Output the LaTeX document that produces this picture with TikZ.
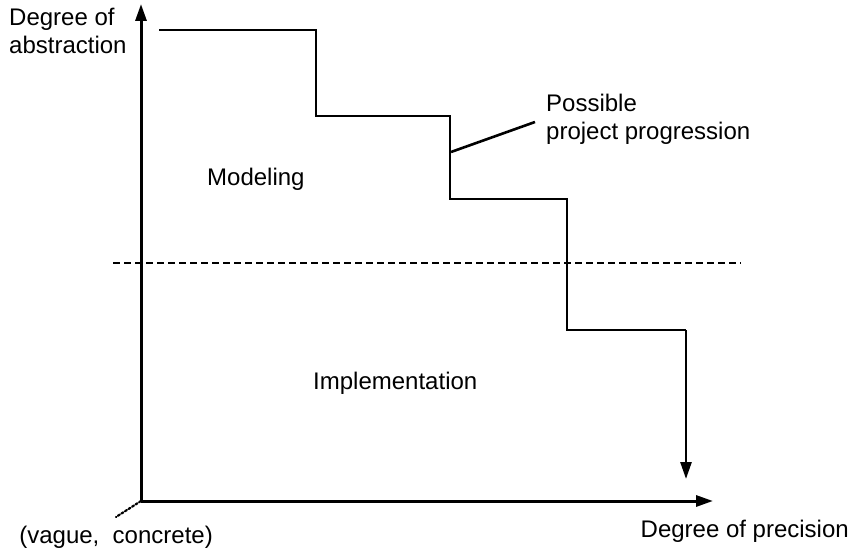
\documentclass[tikz,border=0pt]{standalone}
\usepackage{fontspec}
\setmainfont{Liberation Sans}
\usetikzlibrary{arrows.meta}
\begin{document}
\begin{tikzpicture}[x=1pt,y=-1pt,
  lbl/.style={font=\fontsize{24}{28}\selectfont, inner sep=0pt, align=left},
  axis/.style={line width=3pt, -{Triangle[length=17pt,width=11pt]}},
  stair/.style={line width=2.6pt, line join=miter}]
\useasboundingbox (0,0) rectangle (852,548);
\coordinate (O) at (141,501);
\coordinate (Ytip) at (141,4);
\coordinate (Xtip) at (713,501);
\coordinate (dot) at (116,517);
\draw[axis] (O) -- (Ytip);
\draw[axis] (O) -- (Xtip);
\draw[line width=2.2pt, dotted, line cap=round] (O) -- (dot);
\coordinate (dl) at (113,263);
\coordinate (dr) at (741,263);
\draw[line width=2pt, dash pattern=on 7pt off 4pt] (dl) -- (dr);
\coordinate (s0) at (159,30);
\coordinate (s1) at (316,30);
\coordinate (s2) at (316,116);
\coordinate (s3) at (450,116);
\coordinate (s4) at (450,199);
\coordinate (s5) at (567,199);
\coordinate (s6) at (567,330);
\coordinate (s7) at (686,330);
\coordinate (s8) at (686,479);
\draw[stair] (s0) -- (s1) -- (s2) -- (s3) -- (s4) -- (s5) -- (s6) -- (s7);
\draw[line width=2.6pt, -{Triangle[length=17pt,width=11pt]}] (s7) -- (s8);
\coordinate (p0) at (451,152);
\node[lbl, anchor=north west] (pp) at (546,94) {Possible\\project progression};
\coordinate (p1) at (535,122);
\draw[line width=2.6pt] (p0) -- (p1);
\node[lbl, anchor=north west] (ya) at (9,8) {Degree of\\abstraction};
\node[lbl, anchor=east] (xa) at (849,531) {Degree of precision};
\node[lbl, anchor=east] (vc) at (213,537) {(vague,\ \ concrete)};
\node[lbl, anchor=west] (mod) at (207,179) {Modeling};
\node[lbl, anchor=west] (imp) at (313,383) {Implementation};
\end{tikzpicture}
\end{document}
